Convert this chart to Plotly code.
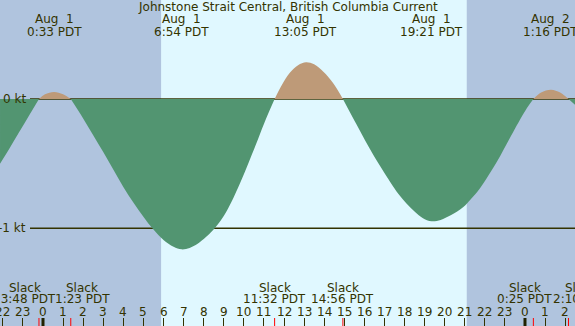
import plotly.graph_objects as go

# ---------------- data ----------------
title = "Johnstone Strait Central, British Columbia Current"

# hours relative to Aug 1 00:00 PDT, current in knots
hours = [-2.14, -1.7, -1.2, -0.7, -0.2,
         0.1, 0.55, 1.0, 1.383,
         2.0, 2.5, 3.0, 3.5, 4.0, 4.5, 5.0, 5.5, 6.0, 6.5, 6.9,
         7.3, 7.7, 8.1, 8.4, 8.7, 9.0, 9.4, 9.7, 10.06, 10.4, 10.72, 11.1, 11.533,
         11.9, 12.3, 12.7, 13.1, 13.5, 13.96, 14.46, 14.933,
         15.62, 16.45, 17.28, 17.7, 18.11, 18.5, 18.9, 19.35,
         19.8, 20.3, 20.93, 21.3, 21.76, 22.6, 23.42, 24.09, 24.417,
         24.8, 25.3, 25.75, 26.167,
         26.5]
knots = [-0.50, -0.39, -0.26, -0.13, 0.0,
         0.036, 0.054, 0.036, 0.0,
         -0.15, -0.28, -0.41, -0.545, -0.68, -0.80, -0.91, -1.01, -1.09, -1.143, -1.163,
         -1.152, -1.12, -1.07, -1.025, -0.97, -0.905, -0.79, -0.69, -0.56, -0.43, -0.305, -0.155, 0.0,
         0.11, 0.205, 0.262, 0.284, 0.268, 0.21, 0.12, 0.0,
         -0.20, -0.434, -0.64, -0.735, -0.81, -0.87, -0.92, -0.946,
         -0.935, -0.90, -0.835, -0.775, -0.69, -0.486, -0.253, -0.072, 0.0,
         0.05, 0.072, 0.05, 0.0,
         -0.045]

max_times = [0.55, 6.9, 13.083, 19.35, 25.267]
max_dates = ["Aug\u00a0\u00a01", "Aug\u00a0\u00a01", "Aug\u00a0\u00a01", "Aug\u00a0\u00a01", "Aug\u00a0\u00a02"]
max_labels = ["0:33 PDT", "6:54 PDT", "13:05 PDT", "19:21 PDT", "1:16 PDT"]

slack_times = [-0.2, 1.383, 11.533, 14.933, 24.417, 26.167]
slack_labels = ["23:48 PDT", "1:23 PDT", "11:32 PDT", "14:56 PDT", "0:25 PDT", "2:10 PDT"]

sunrise = 5.88
sunset = 21.10
midnights = [0, 24]
hour_ticks = list(range(-2, 27))
hour_labels = [str(h % 24) for h in hour_ticks]

levels = [0, -1]
level_labels = ["0 kt", "-1 kt"]

# ---------------- style ----------------
W, H = 575, 326
NIGHT = "#b0c4de"
DAY = "#e0f8ff"
EBB = "#529571"
FLOOD = "#be9a78"
INK = "#333300"
FONT = "DejaVu Sans"
XR = [-2.141, 26.49]
YR = [-1.756, 0.766]
# horizontal nudges (px) that keep neighbouring slack labels from colliding
slack_label_shift = [-14, 11.5, 0, 0, -8.5, 12]


def py(px):
    return 1 - px / H


fig = go.Figure()

# split curve into flood / ebb segments at slack points
segs = []
cur = [(hours[0], knots[0])]
for h, v in zip(hours[1:], knots[1:]):
    cur.append((h, v))
    if v == 0:
        segs.append(cur)
        cur = [(h, v)]
if len(cur) > 1:
    segs.append(cur)

for s in segs:
    xs = [p[0] for p in s]
    ys = [p[1] for p in s]
    col = FLOOD if sum(ys) > 0 else EBB
    fig.add_trace(go.Scatter(x=xs, y=ys, mode="lines", line=dict(width=0, shape="spline", color=col),
                             fill="tozeroy", fillcolor=col, hoverinfo="skip", showlegend=False))

shapes = []
shapes.append(dict(type="rect", xref="x", yref="paper", x0=sunrise, x1=sunset, y0=0, y1=1,
                   fillcolor=DAY, line=dict(width=0), layer="below"))
for lv in levels:
    shapes.append(dict(type="line", xref="paper", yref="y", x0=30 / W, x1=1, y0=lv, y1=lv,
                       line=dict(color=INK, width=1.5), layer="below"))
for t in slack_times:
    shapes.append(dict(type="line", xref="x", yref="paper", x0=t, x1=t, y0=0, y1=8 / H,
                       line=dict(color="#ff0000", width=1), layer="above"))
for m in midnights:
    shapes.append(dict(type="line", xref="x", yref="paper", x0=m, x1=m, y0=0, y1=8 / H,
                       line=dict(color="#222200", width=3), layer="above"))

ann = []
tf = dict(family=FONT, size=12, color=INK)
ann.append(dict(text=title, x=0.5, xref="paper", y=py(7), yref="paper", showarrow=False,
                xanchor="center", yanchor="middle", font=tf))
for t, d, lab in zip(max_times, max_dates, max_labels):
    ann.append(dict(text=d, x=t, xref="x", y=py(19.5), yref="paper", showarrow=False,
                    xanchor="center", yanchor="middle", font=tf))
    ann.append(dict(text=lab, x=t, xref="x", y=py(31.5), yref="paper", showarrow=False,
                    xanchor="center", yanchor="middle", font=tf))
for t, lab, sh in zip(slack_times, slack_labels, slack_label_shift):
    ann.append(dict(text="Slack", x=t, xref="x", xshift=sh, y=py(287.5), yref="paper", showarrow=False,
                    xanchor="center", yanchor="middle", font=tf))
    ann.append(dict(text=lab, x=t, xref="x", xshift=sh, y=py(299.2), yref="paper", showarrow=False,
                    xanchor="center", yanchor="middle", font=tf))
for h, lab in zip(hour_ticks, hour_labels):
    ann.append(dict(text=lab, x=h, xref="x", y=py(311.5), yref="paper", showarrow=False,
                    xanchor="center", yanchor="middle", font=tf))
for lv, lab in zip(levels, level_labels):
    ann.append(dict(text=lab, x=28 / W, xref="paper", y=lv, yref="y", showarrow=False,
                    xanchor="right", yanchor="middle", font=tf))

fig.update_layout(
    width=W, height=H, autosize=False,
    margin=dict(l=0, r=0, t=0, b=0, pad=0),
    paper_bgcolor=NIGHT, plot_bgcolor=NIGHT,
    shapes=shapes, annotations=ann, showlegend=False,
    xaxis=dict(range=XR, showgrid=False, zeroline=False, showline=False,
               ticks="inside", tickvals=hour_ticks, ticklen=8, tickwidth=1, tickcolor=INK,
               showticklabels=False, fixedrange=True),
    yaxis=dict(range=YR, visible=False, showgrid=False, zeroline=False, fixedrange=True),
)

fig.write_html("out.html", config=dict(displayModeBar=False),
               post_script="document.body.style.margin='0';document.body.style.overflow='hidden';")
